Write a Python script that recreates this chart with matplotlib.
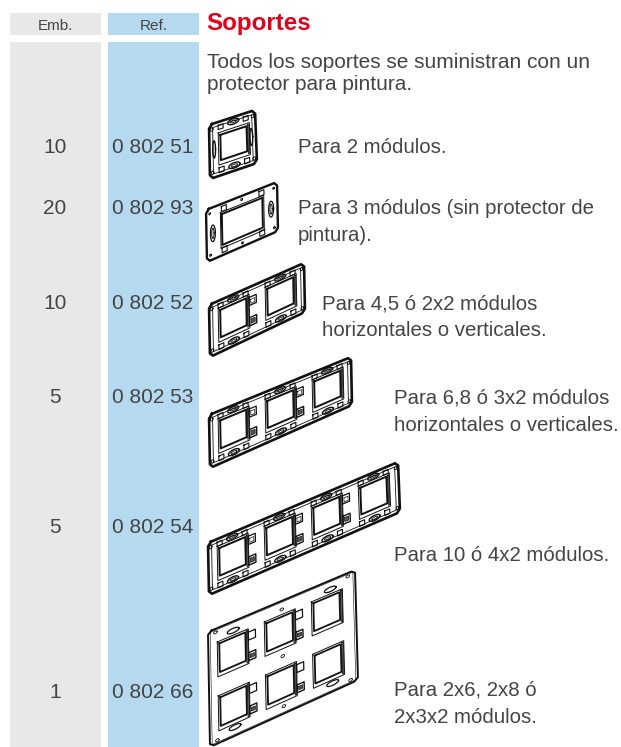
import numpy as np
import matplotlib
matplotlib.use("Agg")
import matplotlib.pyplot as plt

W, H = 621, 747

header_labels = ["Emb.", "Ref."]
title = "Soportes"
intro_lines = ["Todos los soportes se suministran con un", "protector para pintura."]
emb_values = ["10", "20", "10", "5", "5", "1"]
ref_values = ["0 802 51", "0 802 93", "0 802 52", "0 802 53", "0 802 54", "0 802 66"]
row_baselines = [153, 214, 309, 403, 533, 698]
descriptions = [
    ["Para 2 módulos."],
    ["Para 3 módulos (sin protector de", "pintura)."],
    ["Para 4,5 ó 2x2 módulos", "horizontales o verticales."],
    ["Para 6,8 ó 3x2 módulos", "horizontales o verticales."],
    ["Para 10 ó 4x2 módulos."],
    ["Para 2x6, 2x8 ó", "2x3x2 módulos."],
]
desc_x = [298, 298, 322, 394, 394, 394]
desc_y = [153, 214, 309, 404, 561, 696]

GRAY = "#e8e8e8"
BLUE = "#b5daf0"
RED = "#e2001a"
TXT = "#444444"
FONT = "Liberation Sans"

fig = plt.figure(figsize=(W / 100, H / 100), dpi=100)
ax = fig.add_axes([0, 0, 1, 1])
ax.set_xlim(0, W)
ax.set_ylim(H, 0)
ax.axis("off")


def box(x0, x1, y0, y1, color):
    ax.fill([x0, x1, x1, x0], [y0, y0, y1, y1], color=color, lw=0)


def mapper(c):
    # bilinear map from plate coords to pixels, c = TL, TR, BR, BL
    tl, tr, br, bl = [np.array(p, float) for p in c]
    return lambda u, v: (1 - v) * ((1 - u) * tl + u * tr) + v * ((1 - u) * bl + u * br)


def poly(m, pts, lw=0.7, fill=None, color="#111111", z=3):
    xy = np.array([m(u, v) for u, v in pts])
    xy = np.vstack([xy, xy[0]])
    if fill:
        ax.fill(xy[:, 0], xy[:, 1], color=fill, lw=0, zorder=z)
    ax.plot(xy[:, 0], xy[:, 1], color=color, lw=lw, solid_joinstyle="round", zorder=z + 0.1)


def rect(m, u0, u1, v0, v1, **kw):
    poly(m, [(u0, v0), (u1, v0), (u1, v1), (u0, v1)], **kw)


def oval(m, u, v, ru, rv, **kw):
    t = np.linspace(0, 2 * np.pi, 24)
    poly(m, list(zip(u + ru * np.cos(t), v + rv * np.sin(t))), **kw)


def outline(du, dv):
    # plate edge with cut corners
    return [(du, 0), (1 - du, 0), (1, dv), (1, 1 - dv), (1 - du, 1), (du, 1), (0, 1 - dv), (0, dv)]


def strip_plate(corners, n, wv0=0.19, wv1=0.72):
    # plate with n modules on one row
    m = mapper(corners)
    pw = corners[1][0] - corners[0][0]
    poly(m, outline(3 / pw, 0.07), lw=1.9, fill="white")
    rect(m, 3.5 / pw, 1 - 3.5 / pw, 0.07, 0.93, lw=0.6)
    for i in range(n):
        u0 = (i * 47 + 11) / pw
        u1 = (i * 47 + 37) / pw
        rect(m, u0 - 2 / pw, u1 + 3 / pw, wv0 - 0.05, wv1 + 0.08, lw=0.7)
        rect(m, u0, u1, wv0, wv1, lw=1.4, fill="white")
        # thick inner edge of the window
        rect(m, u1 + 1 / pw, u1 + 2.5 / pw, wv0 - 0.02, wv1 + 0.05, lw=0.5, fill="#666666")
        uc = (u0 + u1) / 2
        oval(m, uc, 0.08, 5.5 / pw, 0.05, lw=1.0)
        oval(m, uc, 0.08, 3 / pw, 0.02, lw=0.6)
        oval(m, uc, 0.9, 5.5 / pw, 0.05, lw=1.0)
        oval(m, uc, 0.9, 3 / pw, 0.02, lw=0.6)
        for s in (-1, 1):
            ub = uc + s * 12.5 / pw
            rect(m, ub - 2.5 / pw, ub + 2.5 / pw, 0.06, 0.14, lw=0.8)
            rect(m, ub - 2.5 / pw, ub + 2.5 / pw, 0.85, 0.94, lw=0.8)
        if i < n - 1:
            ug = (i * 47 + 43.5) / pw
            rect(m, ug - 3.5 / pw, ug + 3.5 / pw, 0.2, 0.36, lw=0.9)
            rect(m, ug - 2 / pw, ug + 2 / pw, 0.25, 0.33, lw=0.5)
            rect(m, ug - 3.5 / pw, ug + 3.5 / pw, 0.6, 0.76, lw=1.0)
            rect(m, ug - 2 / pw, ug + 2 / pw, 0.64, 0.72, lw=0.5, fill="#555555")
    if n == 1:
        # the single module plate has long slots on both sides
        for u in (0.1, 0.9):
            oval(m, u, 0.48, 0.03, 0.16, lw=1.0)
    for u, v in [(2.5 / pw, 0.1), (1 - 2.5 / pw, 0.1), (2.5 / pw, 0.9), (1 - 2.5 / pw, 0.9)]:
        oval(m, u, v, 1.4 / pw, 0.03, lw=0.7)


def wide_plate(corners):
    # 3 module plate, one long window
    m = mapper(corners)
    poly(m, outline(0.04, 0.07), lw=1.7, fill="white")
    rect(m, 0.2, 0.81, 0.16, 0.86, lw=0.7)
    rect(m, 0.22, 0.79, 0.2, 0.8, lw=1.4, fill="white")
    for u in (0.09, 0.91):
        oval(m, u, 0.5, 0.035, 0.16, lw=0.9)
        oval(m, u, 0.5, 0.016, 0.1, lw=0.7)
    for u, v in [(0.25, 0.1), (0.78, 0.1), (0.25, 0.9), (0.78, 0.9)]:
        rect(m, u - 0.035, u + 0.035, v - 0.05, v + 0.05, lw=0.8)
    for u, v in [(0.05, 0.1), (0.95, 0.1), (0.05, 0.9), (0.95, 0.9), (0.5, 0.07), (0.5, 0.93)]:
        oval(m, u, v, 0.012, 0.02, lw=0.7)


def big_plate(corners):
    # 2 rows of 3 modules
    m = mapper(corners)
    pw = corners[1][0] - corners[0][0]
    poly(m, outline(0.025, 0.025), lw=1.4, fill="white")
    rect(m, 0.015, 0.985, 0.012, 0.988, lw=0.4)
    for wv0, wv1 in [(0.14, 0.39), (0.61, 0.86)]:
        for i in range(3):
            u0 = (i * 47 + 11) / pw
            u1 = (i * 47 + 37) / pw
            rect(m, u0 - 2 / pw, u1 + 3 / pw, wv0 - 0.02, wv1 + 0.035, lw=0.7)
            rect(m, u0, u1, wv0, wv1, lw=1.3, fill="white")
            rect(m, u1 + 1 / pw, u1 + 2.5 / pw, wv0 - 0.01, wv1 + 0.025, lw=0.5, fill="#666666")
            if i < 2:
                ug = (i * 47 + 43.5) / pw
                rect(m, ug - 3.5 / pw, ug + 3.5 / pw, wv0 + 0.01, wv0 + 0.08, lw=0.9)
                rect(m, ug - 3.5 / pw, ug + 3.5 / pw, wv1 - 0.06, wv1 + 0.01, lw=1.0)
                rect(m, ug - 2 / pw, ug + 2 / pw, wv1 - 0.04, wv1 - 0.01, lw=0.5, fill="#555555")
    for u, v in [(0.17, 0.08), (0.83, 0.08), (0.17, 0.925), (0.83, 0.925)]:
        oval(m, u, v, 0.04, 0.02, lw=0.9)
    for u, v in [(0.5, 0.075), (0.5, 0.935), (0.5, 0.49), (0.05, 0.03), (0.95, 0.03), (0.05, 0.97), (0.95, 0.97)]:
        oval(m, u, v, 0.012, 0.012, lw=0.6)


# columns
box(10, 101, 13, 35, GRAY)
box(108, 199, 13, 35, BLUE)
box(10, 101, 42, H, GRAY)
box(108, 199, 42, H, BLUE)

# header
ax.text(55.5, 30.5, header_labels[0], ha="center", va="baseline", fontsize=11, color=TXT, family=FONT)
ax.text(153.5, 30.5, header_labels[1], ha="center", va="baseline", fontsize=11, color=TXT, family=FONT)
ax.text(206, 30, title, ha="left", va="baseline", fontsize=17.4, color=RED, family=FONT, weight="bold")

fs = 15
ax.text(207, 68, intro_lines[0], ha="left", va="baseline", fontsize=fs, color=TXT, family=FONT)
ax.text(207, 90, intro_lines[1], ha="left", va="baseline", fontsize=fs, color=TXT, family=FONT)

for emb, ref, y in zip(emb_values, ref_values, row_baselines):
    ax.text(55, y, emb, ha="center", va="baseline", fontsize=fs, color=TXT, family=FONT)
    ax.text(153, y, ref, ha="center", va="baseline", fontsize=fs, color=TXT, family=FONT)

for lines, x, y in zip(descriptions, desc_x, desc_y):
    for k, line in enumerate(lines):
        ax.text(x, y + k * 27.3, line, ha="left", va="baseline", fontsize=14.7, color=TXT, family=FONT)

# drawings of the plates
strip_plate([(209, 125), (255, 110), (257, 163), (210, 179)], 1, 0.25, 0.72)
wide_plate([(206, 210), (277, 182), (278, 231), (207, 262)])
strip_plate([(209, 305), (304, 263), (305, 312), (210, 357)], 2)
strip_plate([(209, 415), (351, 357), (352, 405), (210, 468)], 3)
strip_plate([(208, 543), (398, 462), (400, 512), (209, 595)], 4)
big_plate([(208, 632), (355, 570), (358, 680), (210, 747)])

fig.savefig("out.png", dpi=100)
